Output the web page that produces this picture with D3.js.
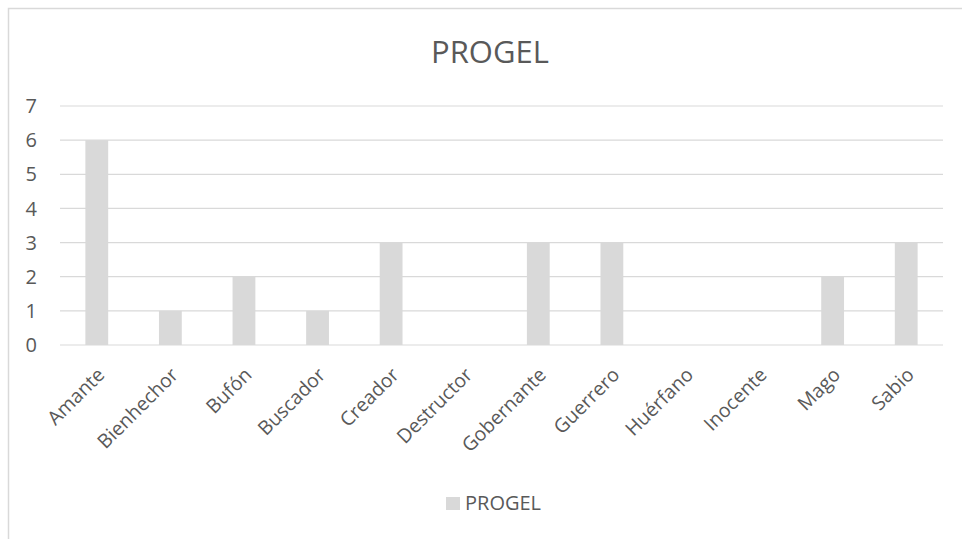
<!DOCTYPE html>
<html>
<head>
<meta charset="utf-8">
<script src="https://cdn.jsdelivr.net/npm/d3@7"></script>
<style>
  html, body { margin: 0; padding: 0; background: #fff; }
  text { font-family: "Open Sans", "Liberation Sans", sans-serif; fill: #595959; }
</style>
</head>
<body>
<svg id="chart" width="962" height="539"></svg>
<script>
const categories = ["Amante", "Bienhechor", "Bufón", "Buscador", "Creador", "Destructor",
  "Gobernante", "Guerrero", "Huérfano", "Inocente", "Mago", "Sabio"];
const values = [6, 1, 2, 1, 3, 0, 3, 3, 0, 0, 2, 3];
const yTicks = [0, 1, 2, 3, 4, 5, 6, 7];
const seriesName = "PROGEL";

const svg = d3.select("#chart");
const margin = { left: 60, right: 19, top: 106, bottom: 194 };
const W = 962, H = 539;

// chart frame
svg.append("rect")
  .attr("x", 8.5).attr("y", 8.5)
  .attr("width", 1000).attr("height", 600)
  .attr("fill", "none").attr("stroke", "#d9d9d9").attr("stroke-width", 1.5);

const x = d3.scaleBand().domain(categories)
  .range([margin.left, W - margin.right]).paddingInner(0.69).paddingOuter(0.345);
const y = d3.scaleLinear().domain([0, 7]).range([H - margin.bottom, margin.top]);

// gridlines
svg.append("g").selectAll("line").data(yTicks).join("line")
  .attr("x1", margin.left).attr("x2", W - margin.right)
  .attr("y1", d => y(d)).attr("y2", d => y(d))
  .attr("stroke", "#d9d9d9").attr("stroke-width", 1.2);

// y tick labels
svg.append("g").selectAll("text").data(yTicks).join("text")
  .attr("x", 37).attr("y", d => y(d)).attr("dy", "0.36em")
  .attr("text-anchor", "end").attr("font-size", 20).text(d => d);

// bars
svg.append("g").selectAll("rect").data(values).join("rect")
  .attr("x", (d, i) => x(categories[i]))
  .attr("width", x.bandwidth())
  .attr("y", d => y(d))
  .attr("height", d => y(0) - y(d))
  .attr("fill", "#d9d9d9");

// x labels, rotated
svg.append("g").selectAll("text").data(categories).join("text")
  .attr("transform", d => `translate(${x(d) + x.bandwidth() / 2 + 9},${y(0) + 31}) rotate(-45)`)
  .attr("text-anchor", "end")
  .attr("font-size", 19.5).text(d => d);

// title
svg.append("text").attr("x", 490).attr("y", 63)
  .attr("text-anchor", "middle").attr("font-size", 31).text(seriesName);

// legend
svg.append("rect").attr("x", 446).attr("y", 497).attr("width", 14).attr("height", 13)
  .attr("fill", "#d9d9d9");
svg.append("text").attr("x", 465).attr("y", 503).attr("dy", "0.36em")
  .attr("font-size", 20).text(seriesName);
</script>
</body>
</html>
